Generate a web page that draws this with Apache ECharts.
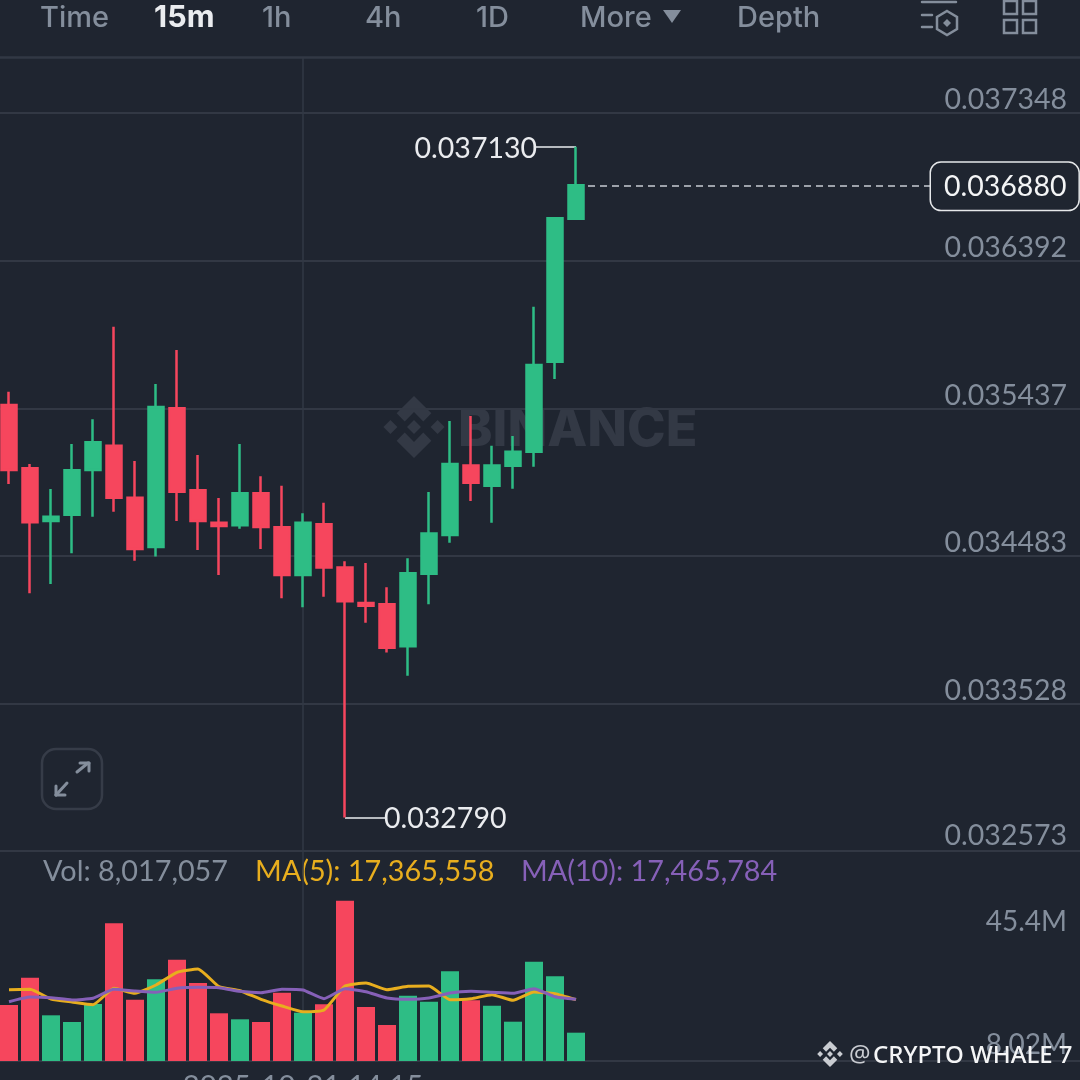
<!DOCTYPE html>
<html><head><meta charset="utf-8">
<style>html,body{margin:0;padding:0;background:#1f2530}#c{width:1080px;height:1080px}</style>
<script src="https://cdn.jsdelivr.net/npm/echarts@6/dist/echarts.min.js"></script>
</head><body><div id="c"></div>
<script>
const times=['10:45','11:00','11:15','11:30','11:45','12:00','12:15','12:30','12:45','13:00','13:15','13:30','13:45','14:00','14:15','14:30','14:45','15:00','15:15','15:30','15:45','16:00','16:15','16:30','16:45','17:00','17:15','17:30'];
const opens =[0.035459,0.035049,0.034708,0.034749,0.035038,0.035195,0.034859,0.034540,0.035437,0.034907,0.034697,0.034680,0.034887,0.034667,0.034359,0.034687,0.034408,0.034177,0.034169,0.033897,0.034367,0.034617,0.035068,0.034936,0.035066,0.035156,0.035739,0.036664];
const closes=[0.035038,0.034700,0.034736,0.035036,0.035217,0.034859,0.034527,0.035446,0.034898,0.034708,0.034676,0.034887,0.034669,0.034359,0.034697,0.034408,0.034189,0.034160,0.033888,0.034370,0.034628,0.035077,0.034956,0.035068,0.035156,0.035717,0.036667,0.036880];
const lows  =[0.034947,0.034240,0.034301,0.034499,0.034736,0.034768,0.034451,0.034479,0.034708,0.034520,0.034359,0.034658,0.034527,0.034208,0.034150,0.034218,0.032790,0.034050,0.033858,0.033707,0.034169,0.034568,0.034837,0.034697,0.034917,0.035059,0.035627,0.036656];
const highs =[0.035545,0.035077,0.034915,0.035206,0.035366,0.035965,0.035096,0.035594,0.035814,0.035135,0.034857,0.035206,0.034997,0.034936,0.034758,0.034826,0.034447,0.034436,0.034279,0.034467,0.034896,0.035355,0.035387,0.035195,0.035258,0.036095,0.036667,0.037130];
const volumes=[15.86,23.6,12.94,11.04,16.14,39.0,17.36,23.14,28.69,22.09,13.51,11.81,11.04,19.34,13.68,16.06,45.4,15.29,10.2,18.49,16.79,25.4,17.19,15.66,11.13,28.12,23.99,8.017057];
const ma5 =[20.19,20.31,17.56,16.71,15.94,20.59,19.17,21.52,25.12,26.05,21.04,19.91,17.47,15.58,13.96,14.44,21.24,22.09,20.19,21.16,21.24,17.36,17.64,18.78,17.19,19.54,19.06,17.365558];
const ma10=[16.79,18.12,17.93,17.28,17.76,20.31,19.82,19.46,20.59,20.87,20.76,19.74,19.34,20.31,20.11,17.64,20.48,19.63,17.84,17.47,17.84,19.26,19.74,19.46,19.17,20.48,18.21,17.465784];
const priceTicks=[0.032573,0.033528,0.034483,0.035437,0.036392,0.037348];
const volumeTicks=[8.017057,45.4];
const lastPrice=0.036880, highPrice=0.037130, lowPrice=0.032790;
const tabs=[['Time',40,false,29],['15m',154,true,30.5],['1h',262,false,29],['4h',365,false,29],['1D',476,false,29],['More',580,false,29],['Depth',737,false,29]];

const BG='#1f2530',GRID='#323844',TXT='#848e9c',GREEN='#2ebd85',RED='#f6465d',YEL='#e8ae1e',PUR='#8660b8';
const FONT='Inter', NUM='Lato';
const cats=times.map(t=>'2025-10-21 '+t);
while(cats.length<52)cats.push('');
const candle=times.map((t,i)=>[opens[i],closes[i],lows[i],highs[i]]);
const fmtM=v=>Math.round(v*1e6).toLocaleString('en-US');

function diamondLogo(cx,cy,s,color,z){
  const P=(pts)=>({type:'polygon',z,silent:true,shape:{points:pts.map(p=>[cx+p[0]*s,cy+p[1]*s])},style:{fill:color}});
  const d=.225;
  const dia=(x,y)=>P([[x,y-d],[x+d,y],[x,y+d],[x-d,y]]);
  return [dia(0,0),dia(-.76,0),dia(.76,0),
    P([[0,-1],[.56,-.44],[.3,-.18],[0,-.48],[-.3,-.18],[-.56,-.44]]),
    P([[0,1],[.56,.44],[.3,.18],[0,.48],[-.3,.18],[-.56,.44]])];
}
const tabEls=tabs.map(t=>({type:'text',x:t[1],y:18,style:{text:t[0],fill:t[2]?'#eaecef':TXT,font:(t[2]?'700 ':'500 ')+t[3]+'px '+FONT,textVerticalAlign:'middle'}}));
const line=(x1,y1,x2,y2,c,w,z)=>({type:'line',z:z||1,silent:true,shape:{x1,y1,x2,y2},style:{stroke:c,lineWidth:w,lineCap:'round'}});
const square=(x,y)=>({type:'rect',shape:{x,y,width:13,height:13},style:{fill:'none',stroke:TXT,lineWidth:2.5}});
const graphicEls=[
  ...tabEls,
  {type:'polygon',shape:{points:[[663,10],[681,10],[672,23]]},style:{fill:TXT}},
  line(0,57.5,1080,57.5,GRID,2.5),
  line(922,2,956,2,TXT,2.5),line(922,15,932,15,TXT,2.5),line(922,27,932,27,TXT,2.5),
  {type:'polygon',shape:{points:[[947,11],[957,17],[957,29],[947,35],[937,29],[937,17]]},style:{fill:'none',stroke:TXT,lineWidth:2.5}},
  {type:'polygon',shape:{points:[[947,19],[951,23],[947,27],[943,23]]},style:{fill:TXT}},
  square(1004,1),square(1023,1),square(1004,20),square(1023,20),
  ...diamondLogo(414,427,31,'#333945',0),
  {type:'text',z:0,x:458,y:430,style:{text:'BINANCE',fill:'#333945',font:'800 52px '+FONT,textVerticalAlign:'middle'}},
  {type:'rect',shape:{x:42,y:749,width:60,height:60,r:14},style:{fill:'none',stroke:'#363c48',lineWidth:2.5}},
  line(77,772,88,763,TXT,3),line(80,763,89,763,TXT,3),line(89,763,89,771,TXT,3),
  line(67,783,56,795,TXT,3),line(56,786,56,795,TXT,3),line(56,795,65,795,TXT,3),
  {type:'text',x:43,y:872,style:{text:'Vol: '+fmtM(volumes[27]),fill:TXT,font:'400 28.8px '+NUM,textVerticalAlign:'middle'}},
  {type:'text',x:255,y:872,style:{text:'MA(5): '+fmtM(ma5[27]),fill:YEL,font:'400 28.8px '+NUM,textVerticalAlign:'middle'}},
  {type:'text',x:521,y:872,style:{text:'MA(10): '+fmtM(ma10[27]),fill:PUR,font:'400 28.8px '+NUM,textVerticalAlign:'middle'}},
  ...diamondLogo(830,1054,13,'#c9ccd1',100),
  {type:'text',z:100,x:849,y:1055,style:{text:'@',fill:'#c9ccd1',font:'400 24px "Noto Sans"',textVerticalAlign:'middle'}},
  {type:'text',z:100,x:873,y:1056,style:{text:'CRYPTO WHALE 7',fill:'#f4f5f6',font:'500 24px "Noto Sans"',textVerticalAlign:'middle'}}
];

const option={
  animation:false,backgroundColor:BG,
  textStyle:{fontFamily:NUM},
  grid:[
    {left:-1.5,width:1092,top:58,height:793,outerBoundsMode:'none'},
    {left:-1.5,width:1092,top:851,height:210,outerBoundsMode:'none'}
  ],
  xAxis:[
    {type:'category',gridIndex:0,data:cats,boundaryGap:true,axisLine:{show:false},axisTick:{show:false},axisLabel:{show:false},splitLine:{show:false}},
    {type:'category',gridIndex:1,data:cats,boundaryGap:true,axisLine:{show:true,lineStyle:{color:GRID,width:2}},axisTick:{show:false},splitLine:{show:false},
     axisLabel:{color:TXT,fontSize:29.3,fontFamily:NUM,margin:11,interval:(i)=>i===14,hideOverlap:false}}
  ],
  yAxis:[
    {type:'value',gridIndex:0,position:'right',min:0.032573,max:0.037704,
     axisLine:{show:false},axisTick:{show:false,customValues:priceTicks},
     splitLine:{show:true,lineStyle:{color:GRID,width:2}},
     axisLabel:{inside:true,margin:23.5,color:TXT,fontSize:28.5,fontFamily:NUM,customValues:priceTicks,verticalAlign:'bottom',lineHeight:26,
       showMinLabel:true,showMaxLabel:true,hideOverlap:false,
       formatter:v=>v===priceTicks[0]?'{m|'+v.toFixed(6)+'}':v.toFixed(6),
       rich:{m:{color:TXT,fontSize:28.5,fontFamily:NUM,lineHeight:26,padding:[0,0,4,0]}}}},
    {type:'value',gridIndex:1,position:'right',min:0,max:59.47,
     axisLine:{show:false},axisTick:{show:false,customValues:volumeTicks},splitLine:{show:false},
     axisLabel:{inside:true,margin:23.5,fontFamily:NUM,customValues:volumeTicks,hideOverlap:false,
       formatter:v=>v>40?'{a|'+v.toFixed(1)+'M}':'{b|'+v.toFixed(2)+'M}',
       rich:{a:{color:TXT,fontSize:28,fontFamily:NUM,padding:[42,0,0,0]},b:{color:TXT,fontSize:28,fontFamily:NUM,padding:[25,0,0,0]}}}}
  ],
  graphic:{elements:graphicEls},
  series:[
    {type:'line',xAxisIndex:0,yAxisIndex:0,data:[],z:1,silent:true,
     markLine:{silent:true,z:1,symbol:'none',animation:false,data:[
       [{coord:[14,0.032573],lineStyle:{color:GRID,width:1.5,type:'solid'},label:{show:false}},{coord:[14,0.037704]}],
       [{coord:[27,lastPrice],lineStyle:{color:'#c8ccd2',width:1.6,type:[7,5]},
         label:{show:true,position:'end',distance:-2,offset:[0,1],formatter:lastPrice.toFixed(6),color:'#f4f5f6',fontSize:28.5,fontFamily:NUM,backgroundColor:BG,borderColor:'#e6e8ea',borderWidth:1.5,borderRadius:10,padding:[10,12,8,13]}},{coord:[44,lastPrice]}],
       [{coord:[27,highPrice],lineStyle:{color:'#eaecef',width:1.5,type:'solid'},
         label:{show:true,position:'end',distance:-3,offset:[0,2],formatter:highPrice.toFixed(6),color:'#eaecef',fontSize:28.5,fontFamily:NUM}},{coord:[25,highPrice]}],
       [{coord:[16,lowPrice],lineStyle:{color:'#eaecef',width:1.5,type:'solid'},
         label:{show:true,position:'end',distance:-3,offset:[0,1],formatter:lowPrice.toFixed(6),color:'#eaecef',fontSize:28.5,fontFamily:NUM}},{coord:[18,lowPrice]}]
     ]}},
    {type:'line',xAxisIndex:1,yAxisIndex:1,data:[],z:1,silent:true,
     markLine:{silent:true,z:1,symbol:'none',animation:false,label:{show:false},lineStyle:{color:GRID,width:1.5,type:'solid'},data:[{xAxis:14}]}},
    {type:'candlestick',xAxisIndex:0,yAxisIndex:0,data:candle,barWidth:15.5,z:3,
     itemStyle:{color:GREEN,color0:RED,borderColor:GREEN,borderColor0:RED,borderWidth:2.5}},
    {type:'bar',xAxisIndex:1,yAxisIndex:1,z:3,barWidth:18,
     data:volumes.map((v,i)=>({value:v,itemStyle:{color:closes[i]>=opens[i]?GREEN:RED}}))},
    {type:'line',xAxisIndex:1,yAxisIndex:1,z:4,data:ma5,showSymbol:false,smooth:0.15,lineStyle:{color:YEL,width:3}},
    {type:'line',xAxisIndex:1,yAxisIndex:1,z:5,data:ma10,showSymbol:false,smooth:0.15,lineStyle:{color:PUR,width:3}}
  ]
};
const chart=echarts.init(document.getElementById('c'),null,{renderer:'canvas',width:1080,height:1080});
chart.setOption(option);
</script></body></html>
